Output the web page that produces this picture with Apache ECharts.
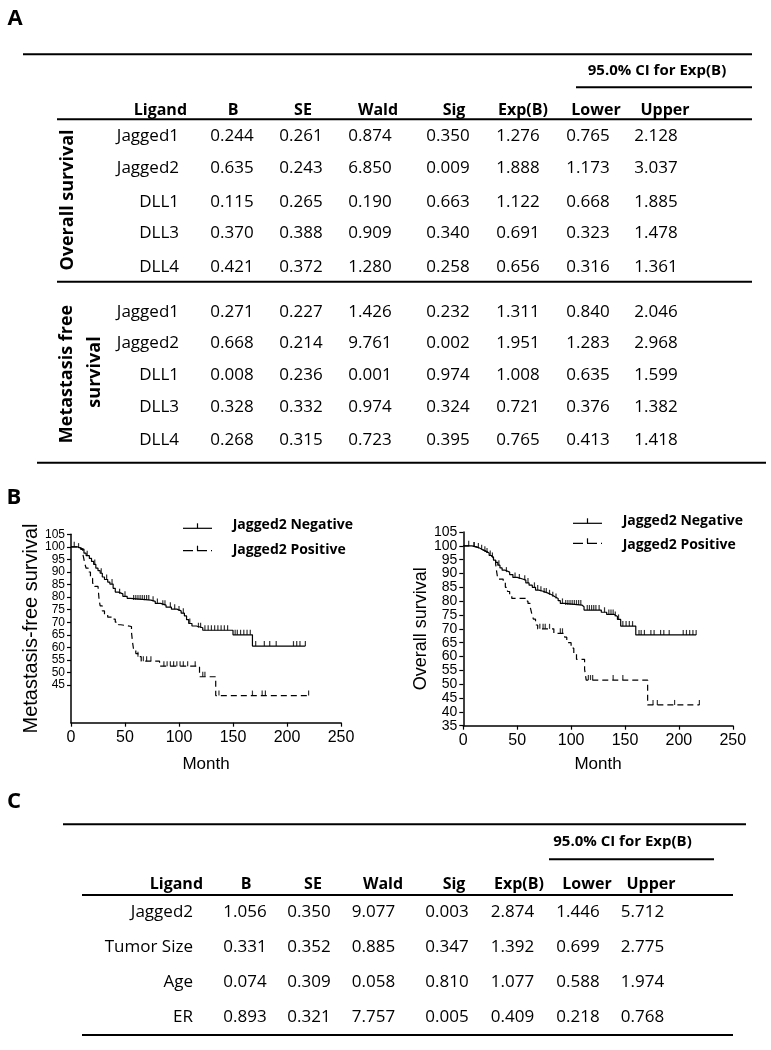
<!DOCTYPE html>
<html><head><meta charset="utf-8">
<script src="https://cdn.jsdelivr.net/npm/echarts@6/dist/echarts.min.js"></script>
<style>html,body{margin:0;padding:0;background:#fff}#c{width:771px;height:1050px}</style>
</head><body><div id="c"></div>
<script>
// ---------------- DATA ----------------
const panelLabels = ['A', 'B', 'C'];
const headers = ['Ligand', 'B', 'SE', 'Wald', 'Sig', 'Exp(B)', 'Lower', 'Upper'];
const ciTitle = '95.0% CI for Exp(B)';
const groupOS = ['Overall survival'];
const groupMFS = ['Metastasis free', 'survival'];

const ligandsA = ['Jagged1', 'Jagged2', 'DLL1', 'DLL3', 'DLL4'];
const osB     = [0.244, 0.635, 0.115, 0.370, 0.421];
const osSE    = [0.261, 0.243, 0.265, 0.388, 0.372];
const osWald  = [0.874, 6.850, 0.190, 0.909, 1.280];
const osSig   = [0.350, 0.009, 0.663, 0.340, 0.258];
const osExp   = [1.276, 1.888, 1.122, 0.691, 0.656];
const osLower = [0.765, 1.173, 0.668, 0.323, 0.316];
const osUpper = [2.128, 3.037, 1.885, 1.478, 1.361];

const mfsB     = [0.271, 0.668, 0.008, 0.328, 0.268];
const mfsSE    = [0.227, 0.214, 0.236, 0.332, 0.315];
const mfsWald  = [1.426, 9.761, 0.001, 0.974, 0.723];
const mfsSig   = [0.232, 0.002, 0.974, 0.324, 0.395];
const mfsExp   = [1.311, 1.951, 1.008, 0.721, 0.765];
const mfsLower = [0.840, 1.283, 0.635, 0.376, 0.413];
const mfsUpper = [2.046, 2.968, 1.599, 1.382, 1.418];

const ligandsC = ['Jagged2', 'Tumor Size', 'Age', 'ER'];
const cB     = [1.056, 0.331, 0.074, 0.893];
const cSE    = [0.350, 0.352, 0.309, 0.321];
const cWald  = [9.077, 0.885, 0.058, 7.757];
const cSig   = [0.003, 0.347, 0.810, 0.005];
const cExp   = [2.874, 1.392, 1.077, 0.409];
const cLower = [1.446, 0.699, 0.588, 0.218];
const cUpper = [5.712, 2.775, 1.974, 0.768];

const seriesNames = ['Jagged2 Negative', 'Jagged2 Positive'];
const xTicks = [0, 50, 100, 150, 200, 250];
const mfsYTicks = [45, 50, 55, 60, 65, 70, 75, 80, 85, 90, 95, 100, 105];
const osYTicks = [35, 40, 45, 50, 55, 60, 65, 70, 75, 80, 85, 90, 95, 100, 105];

// Kaplan-Meier steps [month, survival %]
const mfsNeg = [[0,100],[6,99.5],[9,99],[12,97.5],[14,96.5],[17,95.4],[19,94.2],[21,93],[23,91.5],[25,90.5],[27,89.5],[29,88],[31,87],[34,86],[36,85.2],[39,83.5],[41,82],[44,81.3],[48,80.3],[52,79.5],[55,78.8],[74,78.3],[78,77.5],[83,76.8],[88,76],[93,75.2],[98,74.5],[102,73.6],[105,72.5],[107,71],[109,69.5],[112,68.5],[116,67.8],[122,66.8],[150,65],[168,60.5],[217,60.5]];
const mfsPos = [[0,100],[9,99],[11,97],[12,95],[13,93],[14,91.5],[16,90],[18,87.5],[20,85.5],[22,84.3],[25,83.8],[26,79],[27,76.5],[29,74.5],[31,73],[34,72],[38,71.2],[41,70],[44,69],[46,68.3],[56,66],[57,62],[58,59],[60,57.5],[62,56.3],[65,54.5],[82,52.5],[119,48.3],[134,40.8],[220,40.8]];
const osNeg = [[0,100],[8,99.6],[12,99.2],[15,98.6],[18,98],[21,97.4],[24,96.5],[26,95.8],[28,94.8],[30,94],[32,93],[34,92],[36,91.2],[39,90.5],[43,89.6],[46,88.6],[50,88],[55,87.6],[58,86.6],[61,85.8],[64,85],[67,84],[70,83.6],[74,83],[78,82.3],[82,81.6],[85,81],[88,80.2],[90,79.2],[94,78.6],[110,78],[112,76.8],[128,76],[133,75.2],[140,74.5],[143,73.4],[146,71],[160,67.8],[216,67.8]];
const osPos = [[0,100],[8,99.6],[12,99.2],[15,98.6],[18,98],[21,97.4],[24,96.5],[26,95.8],[28,94.8],[30,93.5],[31,90.5],[32,88],[37,87],[39,85],[41,83.5],[43,82],[45,81],[58,80],[60,79.2],[62,78],[63.5,75.5],[65,73.5],[67,71.4],[69,70],[84,68.4],[94,67],[96,65],[100,63],[102.5,61],[105,59],[112.5,55.4],[114,51.5],[171,42.5],[219,42.5]];

// censoring times (months)
const mfsNegCens = [3,7,15,22,28,33,38,45,50,58,60,62,64,66,68,70,72,76,80,85,87,92,96,100,104,110,118,120,124,127,130,133,136,139,142,145,152,154,157,160,163,166,171,179,184,190,206,209,212,217];
const mfsPosCens = [62,67,70,74,86,89,92,95,98,101,104,108,115,122,124,137,168,177,180,220];
const osNegCens = [5,10,14,17,20,22,27,33,40,48,52,57,60,66,69,72,75,77,80,83,86,92,95,97,99,101,103,105,107,109,115,117,119,121,123,126,131,135,137,139,141,144,148,151,154,157,163,165,168,174,177,183,186,191,204,207,210,213,216];
const osPosCens = [10,25,71,74,76,80,90,92,116,118,120,139,148,176,180,196,219];

// ---------------- LAYOUT ----------------
const FONT = '"Open Sans", "Noto Sans", sans-serif';
const AX_FONT = '"Liberation Sans", Arial, sans-serif';
const L = {
  A: {
    label: [15, 19],
    top: [23, 752, 54.3], ci: [576, 752, 87.3], ciText: [657, 70.7],
    head: [57, 752, 119.3], mid: [57, 752, 281.7], bottom: [37, 766, 462.7],
    headY: 110.7, ligHeadX: 187, ligX: 179,
    headX: [233, 303, 378, 454, 523, 596, 665],
    valX: [232, 301, 370, 448, 518, 588, 656],
    osY: [136, 168.3, 201.7, 233.3, 266.7],
    mfsY: [311.7, 342.7, 375, 407.3, 440],
    osLabel: [68, 200], mfsLabel: [[67, 374], [95, 372]]
  },
  C: {
    label: [14, 801.5],
    top: [63, 746, 824.3], ci: [549, 714, 859.3], ciText: [622.5, 841.7],
    head: [82, 733, 895], bottom: [82, 733, 1035],
    headY: 884, ligHeadX: 203, ligX: 193,
    headX: [246, 313, 383, 454, 519, 587, 651],
    valX: [245, 309, 373.5, 447, 512.5, 578, 642.5],
    rowY: [912.3, 947.3, 982.3, 1017.3]
  }
};

const g = [];
function txt(x, y, s, font, align, rot) {
  g.push({type: 'text', x: x, y: y, rotation: rot || 0, silent: true,
    style: {text: s, font: font, fill: '#000', textAlign: align || 'center', textVerticalAlign: 'middle',
            align: align || 'center', verticalAlign: 'middle'}});
}
function rule(r, w) {
  g.push({type: 'line', silent: true, shape: {x1: r[0], y1: r[2], x2: r[1], y2: r[2]},
    style: {stroke: '#000', lineWidth: w || 2}});
}
const fBody = '17px ' + FONT;
const fHead = 'bold 16px ' + FONT;
const fCI = 'bold 15px ' + FONT;
const fGroup = 'bold 18px ' + FONT;
const fPanel = 'bold 22px ' + FONT;

// Table A
const A = L.A;
txt(A.label[0], A.label[1], panelLabels[0], fPanel);
rule(A.top); rule(A.ci); rule(A.head); rule(A.mid); rule(A.bottom);
txt(A.ciText[0], A.ciText[1], ciTitle, fCI);
txt(A.ligHeadX, A.headY, headers[0], fHead, 'right');
headers.slice(1).forEach((h, i) => txt(A.headX[i], A.headY, h, fHead));
const osCols = [osB, osSE, osWald, osSig, osExp, osLower, osUpper];
const mfsCols = [mfsB, mfsSE, mfsWald, mfsSig, mfsExp, mfsLower, mfsUpper];
ligandsA.forEach((lg, r) => {
  txt(A.ligX, A.osY[r], lg, fBody, 'right');
  osCols.forEach((col, c) => txt(A.valX[c], A.osY[r], col[r].toFixed(3), fBody));
  txt(A.ligX, A.mfsY[r], lg, fBody, 'right');
  mfsCols.forEach((col, c) => txt(A.valX[c], A.mfsY[r], col[r].toFixed(3), fBody));
});
txt(A.osLabel[0], A.osLabel[1], groupOS[0], fGroup, 'center', Math.PI / 2);
groupMFS.forEach((s, i) => txt(A.mfsLabel[i][0], A.mfsLabel[i][1], s, fGroup, 'center', Math.PI / 2));

// Panel B label
txt(14, 498, panelLabels[1], fPanel);

// Table C
const C = L.C;
txt(C.label[0], C.label[1], panelLabels[2], fPanel);
rule(C.top); rule(C.ci); rule(C.head); rule(C.bottom);
txt(C.ciText[0], C.ciText[1], ciTitle, fCI);
txt(C.ligHeadX, C.headY, headers[0], fHead, 'right');
headers.slice(1).forEach((h, i) => txt(C.headX[i], C.headY, h, fHead));
const cCols = [cB, cSE, cWald, cSig, cExp, cLower, cUpper];
ligandsC.forEach((lg, r) => {
  txt(C.ligX, C.rowY[r], lg, fBody, 'right');
  cCols.forEach((col, c) => txt(C.valX[c], C.rowY[r], col[r].toFixed(3), fBody));
});

// Legends for the KM plots (drawn)
const fLeg = 'bold 14px ' + FONT;
function legendItem(x1, x2, ly, ty, tx, name, dashed) {
  g.push({type: 'line', silent: true, shape: {x1: x1, y1: ly, x2: x2, y2: ly},
    style: {stroke: '#000', lineWidth: 1.2, lineDash: dashed ? [10, 4] : null}});
  const mx = (x1 + x2) / 2;
  g.push({type: 'line', silent: true, shape: {x1: mx, y1: ly - 5, x2: mx, y2: ly},
    style: {stroke: '#000', lineWidth: 1.2}});
  txt(tx, ty, name, fLeg, 'left');
}
legendItem(183, 212, 528.3, 525, 232.7, seriesNames[0], false);
legendItem(183, 212, 550.7, 550, 232.7, seriesNames[1], true);
legendItem(573, 602, 523.3, 520.7, 622.7, seriesNames[0], false);
legendItem(573, 602, 543.3, 545, 622.7, seriesNames[1], true);

// ---------------- CHART ----------------
function stepAt(curve, t) {
  let v = curve[0][1];
  for (const p of curve) { if (p[0] <= t) v = p[1]; else break; }
  return v;
}
function censor(curve, times) { return times.map(t => [t, stepAt(curve, t)]); }

function xAxis(gi, gap) {
  return {type: 'value', gridIndex: gi, min: 0, max: 250, interval: 50,
    name: 'Month', nameLocation: 'middle', nameGap: gap,
    nameTextStyle: {fontFamily: AX_FONT, fontSize: 17, color: '#000'},
    axisLine: {lineStyle: {color: '#000', width: 1.5}},
    axisTick: {length: 4, lineStyle: {color: '#000', width: 1.2}},
    axisLabel: {fontFamily: AX_FONT, fontSize: 16, color: '#000', margin: 7, customValues: xTicks,
      showMinLabel: true, showMaxLabel: true},
    splitLine: {show: false}};
}
function yAxis(gi, min, ticks, name, nsize, gap, lsize) {
  return {type: 'value', gridIndex: gi, min: min, max: 105, interval: 5,
    name: name, nameLocation: 'middle', nameGap: gap,
    nameTextStyle: {fontFamily: AX_FONT, fontSize: nsize, color: '#000'},
    axisLine: {lineStyle: {color: '#000', width: 1.5}},
    axisTick: {length: 4, lineStyle: {color: '#000', width: 1.2}, customValues: ticks},
    axisLabel: {fontFamily: AX_FONT, fontSize: lsize, color: '#000', margin: 6, customValues: ticks,
      showMinLabel: true, showMaxLabel: true, hideOverlap: false,
      formatter: v => (ticks.indexOf(v) >= 0 ? String(v) : '')},
    splitLine: {show: false}};
}
function km(name, data, gi, dashed) {
  return {type: 'line', name: name, xAxisIndex: gi, yAxisIndex: gi, data: data, step: 'end',
    showSymbol: false, symbol: 'none', silent: true, animation: false,
    lineStyle: {color: '#000', width: 1.2, type: dashed ? [6, 4] : 'solid'}};
}
function cens(name, data, gi) {
  return {type: 'scatter', name: name, xAxisIndex: gi, yAxisIndex: gi, data: data,
    symbol: 'rect', symbolSize: [1.2, 5], symbolOffset: [0, -2.5], silent: true, animation: false,
    itemStyle: {color: '#000'}, z: 3};
}

const option = {
  backgroundColor: '#fff',
  animation: false,
  grid: [
    {left: 71, top: 534.3, width: 270, height: 188.4},
    {left: 463.3, top: 532, width: 269.5, height: 193.7}
  ],
  xAxis: [xAxis(0, 33), xAxis(1, 30)],
  yAxis: [
    yAxis(0, 30, mfsYTicks, 'Metastasis-free survival', 20, 30, 12),
    yAxis(1, 35, osYTicks, 'Overall survival', 18, 29, 14)
  ],
  series: [
    km(seriesNames[0], mfsNeg, 0, false),
    km(seriesNames[1], mfsPos, 0, true),
    cens(seriesNames[0], censor(mfsNeg, mfsNegCens), 0),
    cens(seriesNames[1], censor(mfsPos, mfsPosCens), 0),
    km(seriesNames[0], osNeg, 1, false),
    km(seriesNames[1], osPos, 1, true),
    cens(seriesNames[0], censor(osNeg, osNegCens), 1),
    cens(seriesNames[1], censor(osPos, osPosCens), 1)
  ],
  graphic: {elements: g}
};
const chart = echarts.init(document.getElementById('c'), null, {renderer: 'canvas'});
chart.setOption(option);
</script>
</body></html>
